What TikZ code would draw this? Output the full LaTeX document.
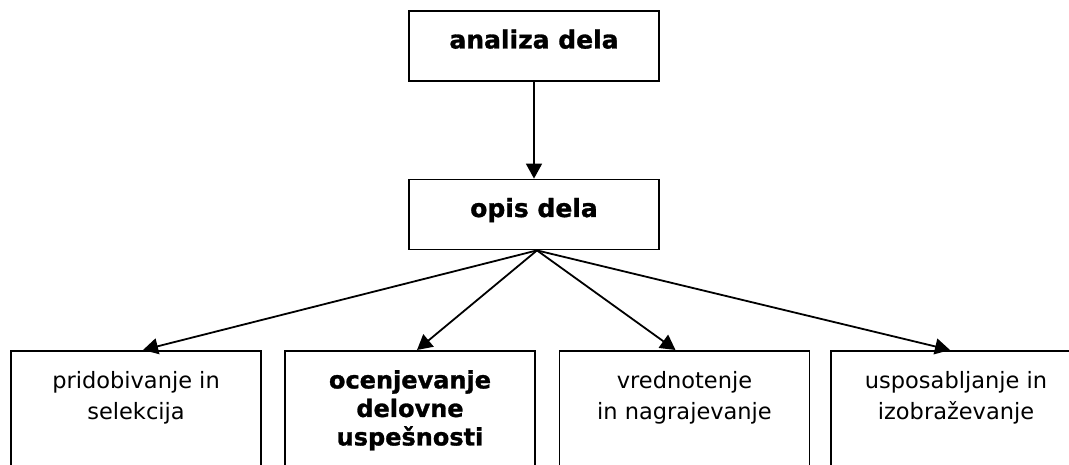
\documentclass[tikz,border=0pt]{standalone}
\usepackage{fontspec}
\setmainfont{DejaVu Sans}[BoldFeatures={FakeBold=1.2}]
\usetikzlibrary{arrows.meta}

\tikzset{
	okvir/.style={draw, line width=1.8pt, minimum width=250pt, inner sep=0pt},
	vrh/.style={okvir, minimum height=70pt, font=\bfseries\fontsize{25pt}{30pt}\selectfont, text height=19pt, text depth=14pt},
	spodaj/.style={okvir, minimum height=140pt, anchor=north},
	besedilo/.style={anchor=north, inner sep=0pt, align=center, font=\fontsize{22.5pt}{31pt}\selectfont},
	krepko/.style={besedilo, font=\bfseries\fontsize{24pt}{28.5pt}\selectfont},
	puscica/.style={line width=1.8pt, -{Triangle[length=15pt,width=16pt]}}
}

\begin{document}
\begin{tikzpicture}[x=1pt, y=-1pt]
	
	\useasboundingbox (0,0) rectangle (1069,465);
	
	\node[vrh] (analiza) at (534,46) {analiza dela};
	\node[vrh] (opis) at (534,214.5) {opis dela};
	
	\node[spodaj] (b1) at (136,350) {};
	\node[spodaj] (b2) at (410,350) {};
	\node[spodaj] (b3) at (684.5,350) {};
	\node[spodaj] (b4) at (956,350) {};
	
	\node[besedilo] (t1) at ([yshift=-21pt]b1.north) {pridobivanje in\\selekcija};
	\node[krepko] (t2) at ([yshift=-20pt]b2.north) {ocenjevanje\\delovne\\uspešnosti};
	\node[besedilo] (t3) at ([yshift=-21pt]b3.north) {vrednotenje\\in nagrajevanje};
	\node[besedilo] (t4) at ([yshift=-21pt]b4.north) {usposabljanje in\\izobraževanje};
	
	\draw[puscica] (analiza) -- (opis);
	
	\coordinate (razcep) at ([xshift=3pt]opis.south);
	\draw[puscica] (razcep) -- ([xshift=7pt]b1.north);
	\draw[puscica] (razcep) -- ([xshift=7pt]b2.north);
	\draw[puscica] (razcep) -- ([xshift=-9pt]b3.north);
	\draw[puscica] (razcep) -- ([xshift=-6pt]b4.north);
	
\end{tikzpicture}
\end{document}
